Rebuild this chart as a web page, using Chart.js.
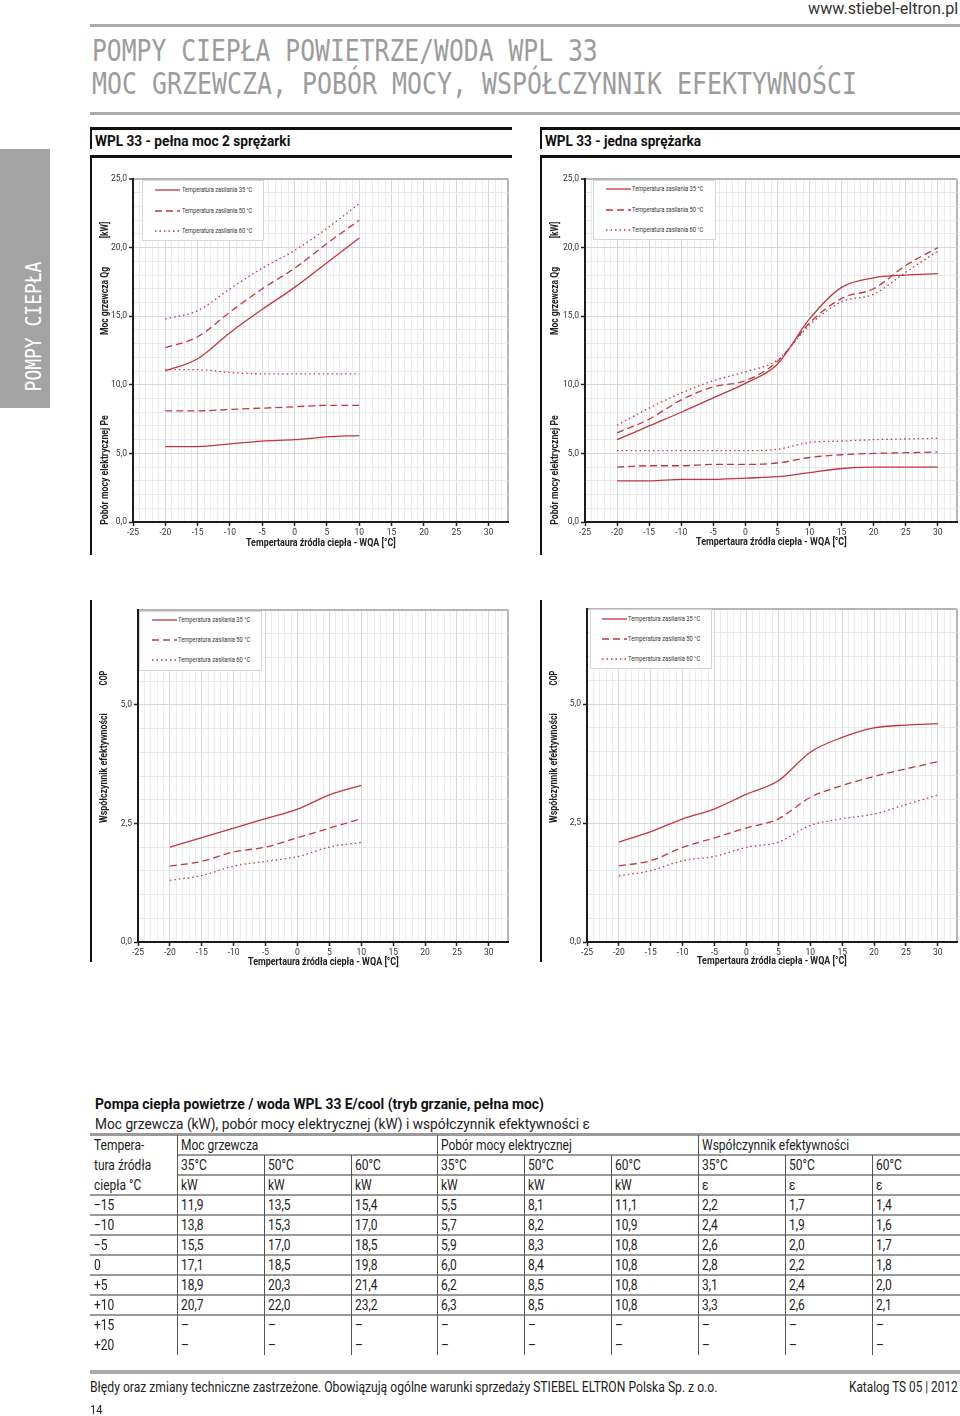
<!DOCTYPE html>
<html>
<head>
<meta charset="utf-8">
<script src="https://cdn.jsdelivr.net/npm/chart.js@4.4.1/dist/chart.umd.min.js"></script>
<style>
  body { margin: 0; background: #fff; }
  #page { position: relative; width: 960px; height: 1416px; overflow: hidden; background: #fff; }
  canvas { position: absolute; }
  .box { position: absolute; }
</style>
</head>
<body>
<div id="page"></div>
<script>
const FONT = "Roboto, 'Liberation Sans', 'DejaVu Sans', sans-serif";
const RED = "#c2363f";

// x ticks shared by all four charts
const xTickValues = [-25, -20, -15, -10, -5, 0, 5, 10, 15, 20, 25, 30];
const yTicksPower = [0, 5, 10, 15, 20, 25];
const yTicksCop = [0, 2.5, 5];
const legendLabels = ["Temperatura zasilania 35 °C", "Temperatura zasilania 50 °C", "Temperatura zasilania 60 °C"];
const xTitle = "Tempertaura źródła ciepła - WQA [°C]";

// WPL 33 - pełna moc 2 sprężarki
const tempFull = [-20, -15, -10, -5, 0, 5, 10];
const qg35Full = [11.0, 11.9, 13.8, 15.5, 17.1, 18.9, 20.7];
const qg50Full = [12.7, 13.5, 15.3, 17.0, 18.5, 20.3, 22.0];
const qg60Full = [14.8, 15.4, 17.0, 18.5, 19.8, 21.4, 23.2];
const pe35Full = [5.5, 5.5, 5.7, 5.9, 6.0, 6.2, 6.3];
const pe50Full = [8.1, 8.1, 8.2, 8.3, 8.4, 8.5, 8.5];
const pe60Full = [11.1, 11.1, 10.9, 10.8, 10.8, 10.8, 10.8];
const cop35Full = [2.0, 2.2, 2.4, 2.6, 2.8, 3.1, 3.3];
const cop50Full = [1.6, 1.7, 1.9, 2.0, 2.2, 2.4, 2.6];
const cop60Full = [1.3, 1.4, 1.6, 1.7, 1.8, 2.0, 2.1];

// WPL 33 - jedna sprężarka
const tempOne = [-20, -15, -10, -5, 0, 5, 10, 15, 20, 25, 30];
const qg35One = [6.0, 7.0, 8.0, 9.05, 10.1, 11.5, 14.8, 17.1, 17.8, 18.0, 18.1];
const qg50One = [6.5, 7.5, 8.9, 9.85, 10.3, 11.7, 14.5, 16.3, 17.0, 18.7, 20.0];
const qg60One = [7.05, 8.3, 9.4, 10.3, 10.95, 11.8, 14.35, 16.05, 16.6, 18.2, 19.75];
const pe35One = [3.0, 3.0, 3.1, 3.1, 3.2, 3.3, 3.6, 3.9, 4.0, 4.0, 4.0];
const pe50One = [4.0, 4.1, 4.1, 4.2, 4.2, 4.3, 4.7, 4.9, 5.0, 5.05, 5.1];
const pe60One = [5.2, 5.2, 5.2, 5.2, 5.2, 5.3, 5.8, 5.9, 6.0, 6.05, 6.1];
const cop35One = [2.1, 2.32, 2.59, 2.8, 3.11, 3.39, 3.99, 4.3, 4.5, 4.56, 4.59];
const cop50One = [1.6, 1.71, 1.99, 2.19, 2.4, 2.59, 3.04, 3.29, 3.48, 3.64, 3.79];
const cop60One = [1.39, 1.5, 1.71, 1.8, 1.99, 2.1, 2.45, 2.59, 2.69, 2.89, 3.09];

// tabela
const tabTemps = ["−15", "−10", "−5", "0", "+5", "+10", "+15", "+20"];
const tabQg35 = [11.9, 13.8, 15.5, 17.1, 18.9, 20.7, null, null];
const tabQg50 = [13.5, 15.3, 17.0, 18.5, 20.3, 22.0, null, null];
const tabQg60 = [15.4, 17.0, 18.5, 19.8, 21.4, 23.2, null, null];
const tabPe35 = [5.5, 5.7, 5.9, 6.0, 6.2, 6.3, null, null];
const tabPe50 = [8.1, 8.2, 8.3, 8.4, 8.5, 8.5, null, null];
const tabPe60 = [11.1, 10.9, 10.8, 10.8, 10.8, 10.8, null, null];
const tabCop35 = [2.2, 2.4, 2.6, 2.8, 3.1, 3.3, null, null];
const tabCop50 = [1.7, 1.9, 2.0, 2.2, 2.4, 2.6, null, null];
const tabCop60 = [1.4, 1.6, 1.7, 1.8, 2.0, 2.1, null, null];

const page = document.getElementById("page");

function rect(x, y, w, h, color) {
  const d = document.createElement("div");
  d.className = "box";
  d.style.cssText += `left:${x}px;top:${y}px;width:${w}px;height:${h}px;background:${color}`;
  page.appendChild(d);
  return d;
}

// tekst: x,y = lewy brzeg / środek w pionie; w = szerokość docelowa
function addText(str, o) {
  const el = document.createElement("div");
  el.textContent = str;
  el.style.cssText = `position:absolute;white-space:nowrap;line-height:1;font-size:${o.size}px;` +
    `font-weight:${o.bold ? 700 : 400};color:${o.color || "#222"};font-family:${o.font || FONT}`;
  page.appendChild(el);
  const natW = el.offsetWidth, natH = el.offsetHeight;
  const sx = o.w ? o.w / natW : (o.sx || 1);
  if (o.rot) {
    el.style.left = (o.x - natW / 2) + "px";
    el.style.top = (o.y - natH / 2) + "px";
    el.style.transform = `rotate(-90deg) scaleX(${sx})`;
  } else {
    const w = natW * sx;
    el.style.left = (o.right ? o.x - w : o.x) + "px";
    el.style.top = (o.y - natH / 2) + "px";
    el.style.transformOrigin = "0 50%";
    el.style.transform = `scaleX(${sx})`;
  }
  return el;
}

const DASHES = [[], [7, 4], [1.5, 3]];

function addLegend(bx, by, bw, bh, lx1, lx2, tx, tw, ys) {
  const b = rect(bx, by, bw, bh, "#fff");
  b.style.boxSizing = "border-box";
  b.style.border = "1px solid #d6d6d6";
  ys.forEach((y, i) => {
    const ns = "http://www.w3.org/2000/svg";
    const svg = document.createElementNS(ns, "svg");
    svg.setAttribute("width", lx2 - lx1 + 2);
    svg.setAttribute("height", 4);
    svg.style.cssText = `position:absolute;left:${lx1}px;top:${y - 2}px`;
    const ln = document.createElementNS(ns, "line");
    ln.setAttribute("x1", 0); ln.setAttribute("x2", lx2 - lx1);
    ln.setAttribute("y1", 2); ln.setAttribute("y2", 2);
    ln.setAttribute("stroke", RED); ln.setAttribute("stroke-width", 1.3);
    if (DASHES[i].length) ln.setAttribute("stroke-dasharray", DASHES[i].join(" "));
    svg.appendChild(ln);
    page.appendChild(svg);
    addText(legendLabels[i], { x: tx, y: y, size: 7, w: tw, color: "#333" });
  });
}

const near = (v, arr) => arr.some(a => Math.abs(a - v) < 1e-6);

function makeChart(c) {
  const cv = document.createElement("canvas");
  cv.width = c.width; cv.height = c.height;
  cv.style.cssText = `left:${c.left}px;top:${c.top}px;width:${c.width}px;height:${c.height}px`;
  page.appendChild(cv);
  const xMax = 33;
  const gridX = {
    color: ctx => ctx.tick.value === xMax ? "#b5b5b5" : (near(ctx.tick.value, xTickValues) ? "#d8d8d8" : "#ebebeb"),
    lineWidth: ctx => ctx.tick.value === xMax ? 2 : 1,
    tickColor: ctx => near(ctx.tick.value, xTickValues) ? "#222" : "rgba(0,0,0,0)",
    tickLength: 4, tickWidth: 1.5
  };
  const gridY = {
    color: ctx => ctx.tick.value === c.yMax ? "#b5b5b5" : (ctx.tick.value % (c.yStep * 5) === 0 ? "#d8d8d8" : "#e8e8e8"),
    lineWidth: ctx => ctx.tick.value === c.yMax ? 2 : 1,
    tickColor: ctx => near(ctx.tick.value, c.yTicks) ? "#222" : "rgba(0,0,0,0)",
    tickLength: 4, tickWidth: 1.5
  };
  new Chart(cv, {
    type: "line",
    data: {
      datasets: c.series.map((s, i) => ({
        data: c.xs.map((x, k) => ({ x: x, y: s[k] })),
        borderColor: RED,
        borderWidth: 1.3,
        borderDash: DASHES[i % 3],
        pointRadius: 0,
        cubicInterpolationMode: "monotone",
        fill: false
      }))
    },
    options: {
      responsive: false,
      animation: false,
      devicePixelRatio: 1,
      layout: { padding: { left: 0, top: c.topPad, right: c.rightPad, bottom: 0 } },
      plugins: { legend: { display: false }, tooltip: { enabled: false } },
      scales: {
        x: {
          type: "linear", min: -25, max: xMax,
          afterFit: s => { s.height = 38; },
          ticks: {
            stepSize: 1, autoSkip: false, maxRotation: 0, minRotation: 0, padding: 2,
            color: "#333", font: { family: FONT, size: 8.5 },
            callback: v => near(v, xTickValues) ? String(v) : ""
          },
          grid: gridX,
          border: { color: "#1c1c1c", width: 2 }
        },
        y: {
          min: 0, max: c.yMax,
          afterFit: s => { s.width = c.yAxisW; },
          ticks: {
            stepSize: c.yStep, autoSkip: false, padding: 2,
            color: "#333", font: { family: FONT, size: 8.5 },
            callback: v => near(v, c.yTicks) ? v.toFixed(1).replace(".", ",") : ""
          },
          grid: gridY,
          border: { color: "#1c1c1c", width: 2 }
        }
      }
    }
  });
}

// NAGŁÓWEK
addText("www.stiebel-eltron.pl", { x: 958, y: 8, size: 17, w: 150, right: true, color: "#333" });
rect(90, 24, 870, 3, "#aaaaaa");
addText("POMPY CIEPŁA POWIETRZE/WODA WPL 33", { x: 92, y: 50, size: 31, w: 506, color: "#9c9c9c", font: "'DejaVu Sans Mono', monospace" });
addText("MOC GRZEWCZA, POBÓR MOCY, WSPÓŁCZYNNIK EFEKTYWNOŚCI", { x: 92, y: 83, size: 31, w: 765, color: "#9c9c9c", font: "'DejaVu Sans Mono', monospace" });
rect(90, 112, 870, 3, "#aaaaaa");

// zakładka boczna
rect(0, 149, 50, 259, "#a3a3a3");
addText("POMPY CIEPŁA", { x: 35, y: 326, size: 21, w: 130, rot: true, color: "#fff", font: "'DejaVu Sans Mono', monospace" });

// sekcje
[[90, 512, "WPL 33 - pełna moc 2 sprężarki", 195], [540, 960, "WPL 33 - jedna sprężarka", 156]].forEach(([x0, x1, t, w]) => {
  rect(x0, 127, x1 - x0, 2.5, "#111");
  rect(x0, 127, 2, 22, "#111");
  addText(t, { x: x0 + 5, y: 141, size: 14, bold: true, w: w, color: "#111" });
  rect(x0, 155, x1 - x0, 2.5, "#111");
  rect(x0, 157, 2, 398, "#111");
  rect(x0, 600, 2, 362, "#111");
});

// WYKRESY
makeChart({ left: 92, top: 160, width: 420, height: 400, yAxisW: 41, topPad: 19, rightPad: 4,
  yMax: 25, yStep: 1, yTicks: yTicksPower, xs: tempFull,
  series: [qg35Full, qg50Full, qg60Full, pe35Full, pe50Full, pe60Full] });
makeChart({ left: 542, top: 160, width: 418, height: 400, yAxisW: 43, topPad: 19, rightPad: 3,
  yMax: 25, yStep: 1, yTicks: yTicksPower, xs: tempOne,
  series: [qg35One, qg50One, qg60One, pe35One, pe50One, pe60One] });
makeChart({ left: 92, top: 590, width: 420, height: 390, yAxisW: 46, topPad: 20, rightPad: 4,
  yMax: 7, yStep: 0.5, yTicks: yTicksCop, xs: tempFull,
  series: [cop35Full, cop50Full, cop60Full] });
makeChart({ left: 542, top: 590, width: 418, height: 390, yAxisW: 45, topPad: 19, rightPad: 3,
  yMax: 7, yStep: 0.5, yTicks: yTicksCop, xs: tempOne,
  series: [cop35One, cop50One, cop60One] });

// legendy
addLegend(142, 180, 122, 61, 155, 180, 182, 70, [190, 211, 231]);
addLegend(593, 180, 123, 60, 606, 631, 632, 71, [189, 210, 230]);
addLegend(139, 611, 123, 60, 152, 177, 178, 72, [620, 640, 660]);
addLegend(590, 609, 122, 60, 602, 627, 628, 72, [619, 639, 659]);

// tytuły osi
const axT = { size: 10, bold: true, rot: true, color: "#222" };
[[105, 0], [555, 0]].forEach(([x]) => {
  addText("[kW]", Object.assign({ x: x, y: 230, w: 17 }, axT));
  addText("Moc grzewcza Qg", Object.assign({ x: x, y: 301, w: 68 }, axT));
  addText("Pobór mocy elektrycznej Pe", Object.assign({ x: x, y: 470, w: 110 }, axT));
  addText("COP", Object.assign({ x: x - 1, y: 678, w: 15 }, axT));
  addText("Współczynnik efektywności", Object.assign({ x: x - 1, y: 768, w: 110 }, axT));
});
addText(xTitle, { x: 246, y: 543, size: 10.5, bold: true, w: 150 });
addText(xTitle, { x: 696, y: 542, size: 10.5, bold: true, w: 151 });
addText(xTitle, { x: 248, y: 962, size: 10.5, bold: true, w: 151 });
addText(xTitle, { x: 697, y: 961, size: 10.5, bold: true, w: 150 });

// TABELA
const TS = 0.8;
addText("Pompa ciepła powietrze / woda WPL 33 E/cool (tryb grzanie, pełna moc)", { x: 95, y: 1104, size: 15, bold: true, w: 449, color: "#111" });
addText("Moc grzewcza (kW), pobór mocy elektrycznej (kW) i współczynnik efektywności ε", { x: 95, y: 1124, size: 15, w: 495 });
const colX = [90, 177, 264, 351, 437, 524, 611, 698, 785, 872, 960];
rect(90, 1133, 870, 2.5, "#9a9a9a");
rect(177, 1154, 783, 1.5, "#9a9a9a");
rect(177, 1174, 783, 1.5, "#9a9a9a");
rect(90, 1194, 870, 1.5, "#9a9a9a");
for (let i = 0; i < 6; i++) rect(90, 1214 + 20 * i, 870, 1.5, "#9a9a9a");
colX.slice(1, 10).forEach((x, i) => {
  const group = (i % 3 === 0);
  rect(x, group ? 1135 : 1155, 1, group ? 220 : 200, "#555");
});
const cell = (t, col, y) => addText(t, { x: colX[col] + 4, y: y, size: 15, sx: TS });
cell("Tempera-", 0, 1145); cell("tura źródła", 0, 1165); cell("ciepła °C", 0, 1185);
cell("Moc grzewcza", 1, 1145); cell("Pobór mocy elektrycznej", 4, 1145); cell("Współczynnik efektywności", 7, 1145);
for (let c = 1; c <= 9; c++) {
  cell(["35°C", "50°C", "60°C"][(c - 1) % 3], c, 1165);
  cell(c <= 6 ? "kW" : "ε", c, 1185);
}
const tabCols = [tabQg35, tabQg50, tabQg60, tabPe35, tabPe50, tabPe60, tabCop35, tabCop50, tabCop60];
tabTemps.forEach((t, r) => {
  const y = 1205 + 20 * r;
  cell(t, 0, y);
  tabCols.forEach((col, c) => {
    const v = col[r];
    cell(v === null ? "–" : v.toFixed(1).replace(".", ","), c + 1, y);
  });
});

// STOPKA
rect(90, 1370, 870, 3.5, "#aaaaaa");
addText("Błędy oraz zmiany techniczne zastrzeżone. Obowiązują ogólne warunki sprzedaży STIEBEL ELTRON Polska Sp. z o.o.", { x: 90, y: 1387, size: 14, w: 627, color: "#222" });
addText("Katalog TS 05 | 2012", { x: 958, y: 1387, size: 14, w: 109, right: true, color: "#222" });
addText("14", { x: 90, y: 1409, size: 13, sx: 0.85, color: "#222" });
</script>
</body>
</html>
